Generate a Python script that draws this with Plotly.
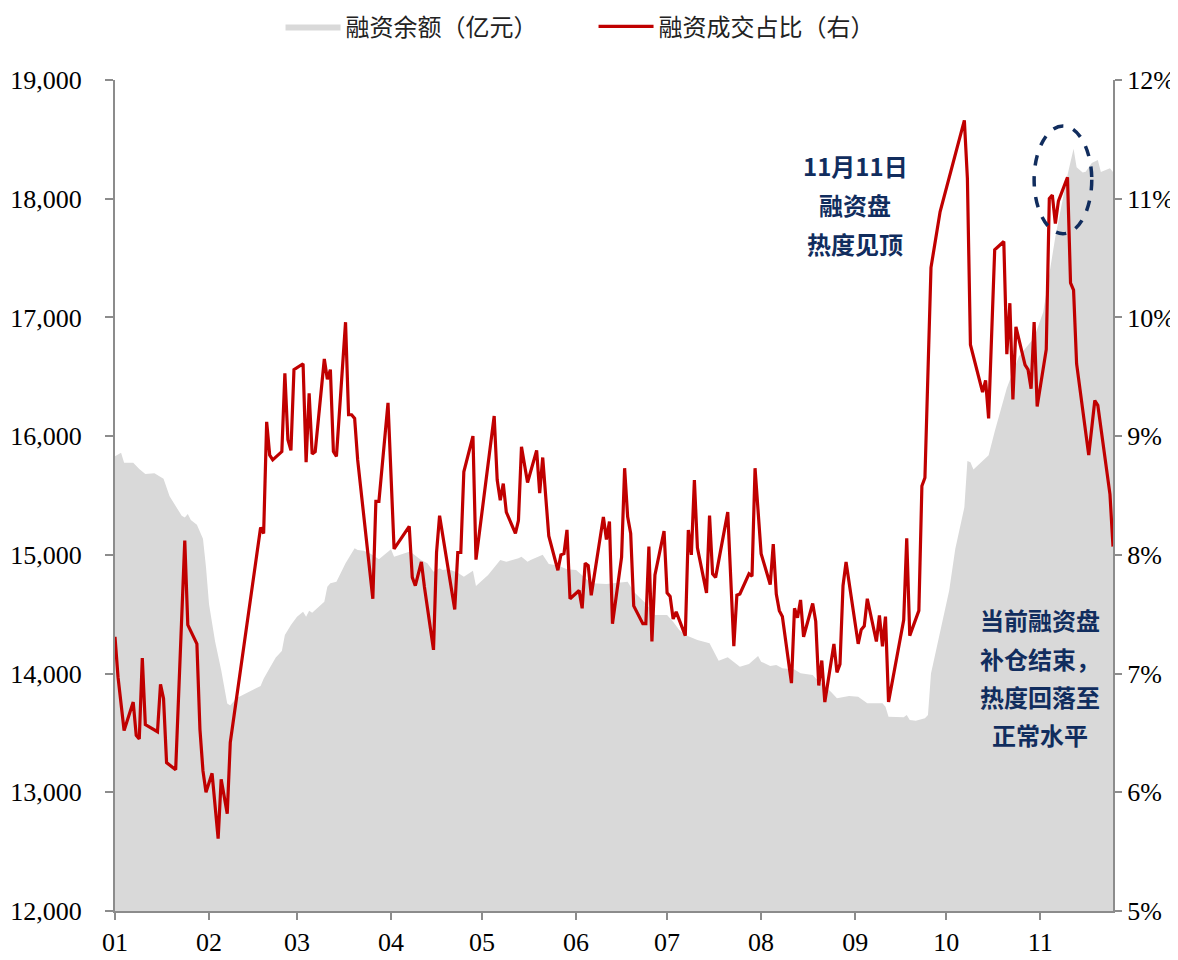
import plotly.graph_objects as go

# ---- 融资余额（亿元）: grey area, left axis ----
area_dates = [
    "2024-01-01", "2024-01-03", "2024-01-04", "2024-01-07", "2024-01-09", "2024-01-11", "2024-01-14",
    "2024-01-17", "2024-01-19", "2024-01-23", "2024-01-24", "2024-01-25", "2024-01-26", "2024-01-28",
    "2024-01-30", "2024-01-31", "2024-02-01", "2024-02-03", "2024-02-05", "2024-02-07", "2024-02-08",
    "2024-02-10", "2024-02-18", "2024-02-19", "2024-02-21", "2024-02-23", "2024-02-25", "2024-02-26",
    "2024-02-28", "2024-03-01", "2024-03-03", "2024-03-04", "2024-03-05", "2024-03-06", "2024-03-10",
    "2024-03-11", "2024-03-12", "2024-03-14", "2024-03-17", "2024-03-20", "2024-03-21", "2024-03-23",
    "2024-03-25", "2024-03-28", "2024-04-01", "2024-04-02", "2024-04-07", "2024-04-08", "2024-04-11",
    "2024-04-13", "2024-04-15", "2024-04-17", "2024-04-18", "2024-04-20", "2024-04-23", "2024-04-25",
    "2024-04-28", "2024-04-29", "2024-05-03", "2024-05-07", "2024-05-09", "2024-05-13", "2024-05-14",
    "2024-05-16", "2024-05-17", "2024-05-20", "2024-05-21", "2024-05-23", "2024-05-25", "2024-05-27",
    "2024-05-29", "2024-06-01", "2024-06-03", "2024-06-06", "2024-06-11", "2024-06-18", "2024-06-20",
    "2024-06-24", "2024-06-27", "2024-07-01", "2024-07-03", "2024-07-05", "2024-07-07", "2024-07-09",
    "2024-07-11", "2024-07-15", "2024-07-18", "2024-07-21", "2024-07-23", "2024-07-25", "2024-07-28",
    "2024-07-31", "2024-08-01", "2024-08-04", "2024-08-06", "2024-08-08", "2024-08-12", "2024-08-14",
    "2024-08-18", "2024-08-19", "2024-08-24", "2024-08-26", "2024-08-30", "2024-09-02", "2024-09-05",
    "2024-09-10", "2024-09-11", "2024-09-12", "2024-09-17", "2024-09-18", "2024-09-19", "2024-09-21",
    "2024-09-24", "2024-09-25", "2024-09-26", "2024-09-30", "2024-10-02", "2024-10-04", "2024-10-07",
    "2024-10-08", "2024-10-09", "2024-10-10", "2024-10-15", "2024-10-17", "2024-10-21", "2024-10-25",
    "2024-10-30", "2024-11-02", "2024-11-06", "2024-11-10", "2024-11-12", "2024-11-13", "2024-11-15",
    "2024-11-16", "2024-11-18", "2024-11-20", "2024-11-21", "2024-11-24", "2024-11-25",
]
margin_balance = [
    15830, 15861, 15776, 15776, 15723, 15681, 15687,
    15642, 15493, 15329, 15314, 15344, 15294, 15254,
    15135, 14896, 14583, 14270, 14031, 13747, 13732,
    13792, 13895, 13956, 14046, 14136, 14190, 14325,
    14409, 14479, 14521, 14479, 14530, 14513, 14606,
    14732, 14760, 14774, 14929, 15055, 15041, 15035,
    15013, 14962, 15047, 14985, 15027, 15013, 14955,
    14929, 14858, 14887, 14873, 14878, 14850, 14816,
    14867, 14738, 14830, 14957, 14942, 14971, 14985,
    14942, 14957, 14985, 15000, 14923, 14915, 14900,
    14878, 14873, 14830, 14760, 14755, 14774, 14690,
    14591, 14494, 14494, 14437, 14367, 14325, 14305,
    14283, 14255, 14108, 14137, 14100, 14058, 14080,
    14148, 14100, 14064, 14072, 14044, 14035, 14002,
    13988, 13960, 13847, 13792, 13811, 13805, 13749,
    13749, 13721, 13637, 13632, 13651, 13609, 13603,
    13623, 13651, 14000, 14450, 14700, 15050, 15400,
    15790, 15780, 15718, 15838, 16040, 16405, 16674,
    16828, 17045, 17680, 18200, 18420, 18265, 18220,
    18228, 18300, 18326, 18224, 18256, 18224,
]

# ---- 融资成交占比（右）: red line, right axis (%) ----
ratio_dates = [
    "2024-01-01", "2024-01-02", "2024-01-04", "2024-01-07", "2024-01-08", "2024-01-09", "2024-01-10",
    "2024-01-11", "2024-01-15", "2024-01-16", "2024-01-17", "2024-01-18", "2024-01-21", "2024-01-24",
    "2024-01-25", "2024-01-28", "2024-01-29", "2024-01-30", "2024-01-31", "2024-02-02", "2024-02-04",
    "2024-02-05", "2024-02-07", "2024-02-08", "2024-02-18", "2024-02-19", "2024-02-20", "2024-02-21",
    "2024-02-22", "2024-02-25", "2024-02-26", "2024-02-27", "2024-02-28", "2024-02-29", "2024-03-03",
    "2024-03-04", "2024-03-05", "2024-03-06", "2024-03-07", "2024-03-10", "2024-03-11", "2024-03-12",
    "2024-03-13", "2024-03-14", "2024-03-17", "2024-03-18", "2024-03-19", "2024-03-20", "2024-03-21",
    "2024-03-23", "2024-03-26", "2024-03-27", "2024-03-28", "2024-03-31", "2024-04-02", "2024-04-07",
    "2024-04-08", "2024-04-09", "2024-04-11", "2024-04-12", "2024-04-15", "2024-04-16", "2024-04-17",
    "2024-04-22", "2024-04-23", "2024-04-24", "2024-04-25", "2024-04-28", "2024-04-29", "2024-05-05",
    "2024-05-06", "2024-05-07", "2024-05-08", "2024-05-09", "2024-05-12", "2024-05-13", "2024-05-14",
    "2024-05-16", "2024-05-19", "2024-05-20", "2024-05-21", "2024-05-23", "2024-05-26", "2024-05-27",
    "2024-05-28", "2024-05-29", "2024-05-30", "2024-06-02", "2024-06-03", "2024-06-04", "2024-06-05",
    "2024-06-06", "2024-06-10", "2024-06-11", "2024-06-12", "2024-06-13", "2024-06-16", "2024-06-17",
    "2024-06-18", "2024-06-19", "2024-06-20", "2024-06-23", "2024-06-24", "2024-06-25", "2024-06-26",
    "2024-06-27", "2024-06-30", "2024-07-01", "2024-07-02", "2024-07-03", "2024-07-04", "2024-07-07",
    "2024-07-08", "2024-07-09", "2024-07-10", "2024-07-11", "2024-07-14", "2024-07-15", "2024-07-16",
    "2024-07-17", "2024-07-21", "2024-07-23", "2024-07-24", "2024-07-25", "2024-07-28", "2024-07-29",
    "2024-07-30", "2024-08-01", "2024-08-04", "2024-08-05", "2024-08-06", "2024-08-07", "2024-08-08",
    "2024-08-11", "2024-08-12", "2024-08-13", "2024-08-14", "2024-08-15", "2024-08-18", "2024-08-19",
    "2024-08-20", "2024-08-21", "2024-08-22", "2024-08-25", "2024-08-26", "2024-08-27", "2024-08-28",
    "2024-08-29", "2024-09-02", "2024-09-03", "2024-09-04", "2024-09-05", "2024-09-08", "2024-09-09",
    "2024-09-10", "2024-09-11", "2024-09-12", "2024-09-17", "2024-09-18", "2024-09-19", "2024-09-22",
    "2024-09-23", "2024-09-24", "2024-09-26", "2024-09-29", "2024-10-07", "2024-10-08", "2024-10-09",
    "2024-10-13", "2024-10-14", "2024-10-15", "2024-10-17", "2024-10-20", "2024-10-21", "2024-10-22",
    "2024-10-23", "2024-10-24", "2024-10-27", "2024-10-28", "2024-10-29", "2024-10-30", "2024-10-31",
    "2024-11-03", "2024-11-04", "2024-11-05", "2024-11-06", "2024-11-07", "2024-11-10", "2024-11-11",
    "2024-11-12", "2024-11-13", "2024-11-17", "2024-11-19", "2024-11-20", "2024-11-22", "2024-11-24",
    "2024-11-25",
]
ratio_pct = [
    7.31, 6.97, 6.52, 6.76, 6.48, 6.45, 7.13,
    6.57, 6.51, 6.91, 6.79, 6.25, 6.19, 8.12,
    7.41, 7.25, 6.53, 6.18, 6.00, 6.16, 5.61,
    6.11, 5.82, 6.42, 8.23, 8.18, 9.12, 8.84,
    8.80, 8.87, 9.53, 8.97, 8.88, 9.56, 9.61,
    8.78, 9.36, 8.85, 8.87, 9.65, 9.48, 9.56,
    8.87, 8.83, 9.96, 9.18, 9.18, 9.15, 8.80,
    8.35, 7.63, 8.45, 8.45, 9.28, 8.05, 8.24,
    7.81, 7.74, 7.94, 7.73, 7.20, 8.02, 8.33,
    7.54, 8.02, 8.02, 8.70, 9.00, 7.96, 9.17,
    8.63, 8.46, 8.60, 8.36, 8.18, 8.29, 8.91,
    8.61, 8.88, 8.52, 8.82, 8.16, 7.87, 8.00,
    8.01, 8.21, 7.63, 7.70, 7.55, 7.93, 7.91,
    7.66, 8.32, 8.13, 8.28, 7.42, 7.98, 8.73,
    8.32, 8.18, 7.57, 7.42, 7.42, 8.07, 7.27,
    7.83, 8.20, 7.68, 7.65, 7.46, 7.52, 7.32,
    8.21, 8.00, 8.63, 8.06, 7.68, 8.33, 7.84,
    7.81, 8.36, 7.23, 7.66, 7.67, 7.84, 7.82,
    8.73, 8.01, 7.75, 8.09, 7.67, 7.53, 7.48,
    6.92, 7.55, 7.47, 7.62, 7.31, 7.59, 7.44,
    6.90, 7.11, 6.76, 7.25, 7.01, 7.08, 7.74,
    7.94, 7.25, 7.37, 7.40, 7.63, 7.27, 7.49,
    7.23, 7.48, 6.76, 7.45, 8.14, 7.32, 7.53,
    8.58, 8.65, 10.42, 10.89, 11.66, 11.17, 9.77,
    9.37, 9.47, 9.15, 10.57, 10.64, 9.69, 10.12,
    9.31, 9.92, 9.60, 9.56, 9.40, 9.96, 9.25,
    9.73, 11.00, 11.03, 10.79, 10.98, 11.18, 10.29,
    10.23, 9.61, 8.84, 9.30, 9.26, 8.90, 8.51,
    8.07,
]

month_ticks = ["2024-01-01", "2024-02-01", "2024-03-01", "2024-04-01", "2024-05-01", "2024-06-01",
               "2024-07-01", "2024-08-01", "2024-09-01", "2024-10-01", "2024-11-01"]
month_labels = ["01", "02", "03", "04", "05", "06", "07", "08", "09", "10", "11"]

note_top = ["11月11日", "融资盘", "热度见顶"]
note_bottom = ["当前融资盘", "补仓结束，", "热度回落至", "正常水平"]

NAVY = "#112D5E"
AXIS = "#8C8C8C"
SERIF = "Liberation Serif, Times New Roman, Noto Sans CJK SC, serif"
CJK = "Noto Sans CJK SC, sans-serif"

fig = go.Figure()
fig.add_trace(go.Scatter(
    x=area_dates, y=margin_balance, name="融资余额（亿元）",
    mode="lines", fill="tozeroy", fillcolor="#D9D9D9",
    line=dict(width=0, color="#D9D9D9"), yaxis="y",
))
fig.add_trace(go.Scatter(
    x=ratio_dates, y=ratio_pct, name="融资成交占比（右）",
    mode="lines", line=dict(color="#C00000", width=3.2), yaxis="y2",
))

# annotation text lines
for i, t in enumerate(note_top):
    fig.add_annotation(xref="paper", yref="paper", x=0.7415, y=0.8977 - i * 0.0470,
                       text=t, showarrow=False, xanchor="center", yanchor="middle",
                       font=dict(family=CJK, size=24, color=NAVY, weight="bold"))
for i, t in enumerate(note_bottom):
    fig.add_annotation(xref="paper", yref="paper", x=0.9269, y=0.3502 - i * 0.0461,
                       text=t, showarrow=False, xanchor="center", yanchor="middle",
                       font=dict(family=CJK, size=24, color=NAVY, weight="bold"))

# dashed ellipse around the peak
fig.add_shape(type="circle", xref="x", yref="y2",
              x0="2024-10-30", x1="2024-11-18", y0=10.705, y1=11.613,
              line=dict(color=NAVY, width=3.5, dash="dash"))

# the page body adds an 8px offset, so the figure is 8px smaller than the window
fig.update_layout(
    width=1170, height=952,
    margin=dict(l=107, r=65, t=72, b=49, autoexpand=False),
    paper_bgcolor="white", plot_bgcolor="white",
    font=dict(family=SERIF, size=26, color="black"),
    showlegend=True,
    legend=dict(orientation="h", x=0.4795, xanchor="center", y=1.064, yanchor="middle",
                font=dict(family=CJK, size=24, color="#222"), itemwidth=55,
                entrywidth=243, entrywidthmode="pixels",
                bgcolor="rgba(0,0,0,0)", traceorder="normal"),
    xaxis=dict(
        type="date", range=["2024-01-01", "2024-11-25"],
        tickvals=month_ticks, ticktext=month_labels,
        showline=True, linecolor=AXIS, linewidth=2,
        ticks="outside", ticklen=7, tickcolor=AXIS, tickwidth=1.5,
        showgrid=False, zeroline=False, automargin=False,
        tickfont=dict(family=SERIF, size=26, color="black"),
    ),
    yaxis=dict(
        range=[12000, 19000], dtick=1000, tickformat=",d",
        showline=True, linecolor=AXIS, linewidth=2,
        ticks="outside", ticklen=8, tickcolor=AXIS, tickwidth=1.5,
        showgrid=False, zeroline=False, ticklabelstandoff=18, automargin=False,
        tickfont=dict(family=SERIF, size=26, color="black"),
    ),
    yaxis2=dict(
        range=[5, 12], dtick=1, ticksuffix="%", overlaying="y", side="right",
        showline=True, linecolor=AXIS, linewidth=2,
        ticks="outside", ticklen=7, tickcolor=AXIS, tickwidth=1.5,
        showgrid=False, zeroline=False, automargin=False,
        tickfont=dict(family=SERIF, size=26, color="black"),
    ),
)

fig.write_html("out.html")
